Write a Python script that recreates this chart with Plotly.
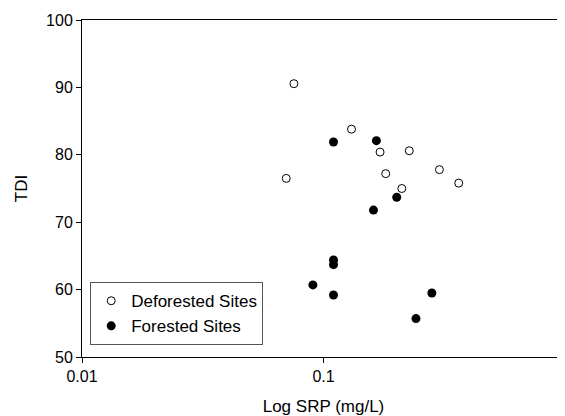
import plotly.graph_objects as go

# Deforested sites (open circles)
defor_srp = [0.0754, 0.0701, 0.1306, 0.1715, 0.2265, 0.181, 0.302, 0.363, 0.211]
defor_tdi = [90.55, 76.5, 83.8, 80.4, 80.6, 77.2, 77.8, 75.8, 75.0]

# Forested sites (filled circles)
for_srp = [0.110, 0.1656, 0.201, 0.161, 0.110, 0.110, 0.0904, 0.110, 0.281, 0.2415]
for_tdi = [81.9, 82.1, 73.7, 71.8, 64.4, 63.7, 60.7, 59.2, 59.5, 55.7]

x_ticks = [0.01, 0.1, 1]
x_ticklabels = ["0.01", "0.1", "1"]
y_ticks = [50, 60, 70, 80, 90, 100]

FONT = "Liberation Sans, Arial, sans-serif"

fig = go.Figure()
fig.add_trace(go.Scatter(
    x=defor_srp, y=defor_tdi, mode="markers", name="Deforested Sites",
    marker=dict(symbol="circle", size=8, color="white",
                line=dict(color="black", width=1)),
))
fig.add_trace(go.Scatter(
    x=for_srp, y=for_tdi, mode="markers", name="Forested Sites",
    marker=dict(symbol="circle", size=9, color="black",
                line=dict(color="black", width=0)),
))

# page body has an 8px default margin, so the figure is sized to fit
fig.update_layout(
    width=557, height=408,
    margin=dict(l=74, r=0, t=12, b=59),
    paper_bgcolor="white", plot_bgcolor="white",
    font=dict(family=FONT, size=16, color="black"),
    showlegend=True,
    legend=dict(
        x=0.017, y=0.222, xanchor="left", yanchor="top",
        bgcolor="white", bordercolor="#555555", borderwidth=1,
        font=dict(family=FONT, size=17, color="black"),
        tracegroupgap=0, itemwidth=30,
    ),
    xaxis=dict(
        type="log", range=[-2, 0], automargin=False,
        tickvals=x_ticks, ticktext=x_ticklabels,
        showgrid=False, zeroline=False,
        showline=True, linecolor="black", linewidth=1, mirror=True,
        ticks="outside", ticklen=5, tickcolor="black",
        tickfont=dict(size=16),
        title=dict(text="Log SRP (mg/L)", font=dict(size=17), standoff=19),
    ),
    yaxis=dict(
        range=[50, 100], automargin=False,
        tickvals=y_ticks,
        showgrid=False, zeroline=False,
        showline=True, linecolor="black", linewidth=1, mirror=False,
        ticks="outside", ticklen=5, tickcolor="black",
        tickfont=dict(size=16),
        title=dict(text="TDI", font=dict(size=17), standoff=14),
    ),
)

fig.write_html("out.html")
